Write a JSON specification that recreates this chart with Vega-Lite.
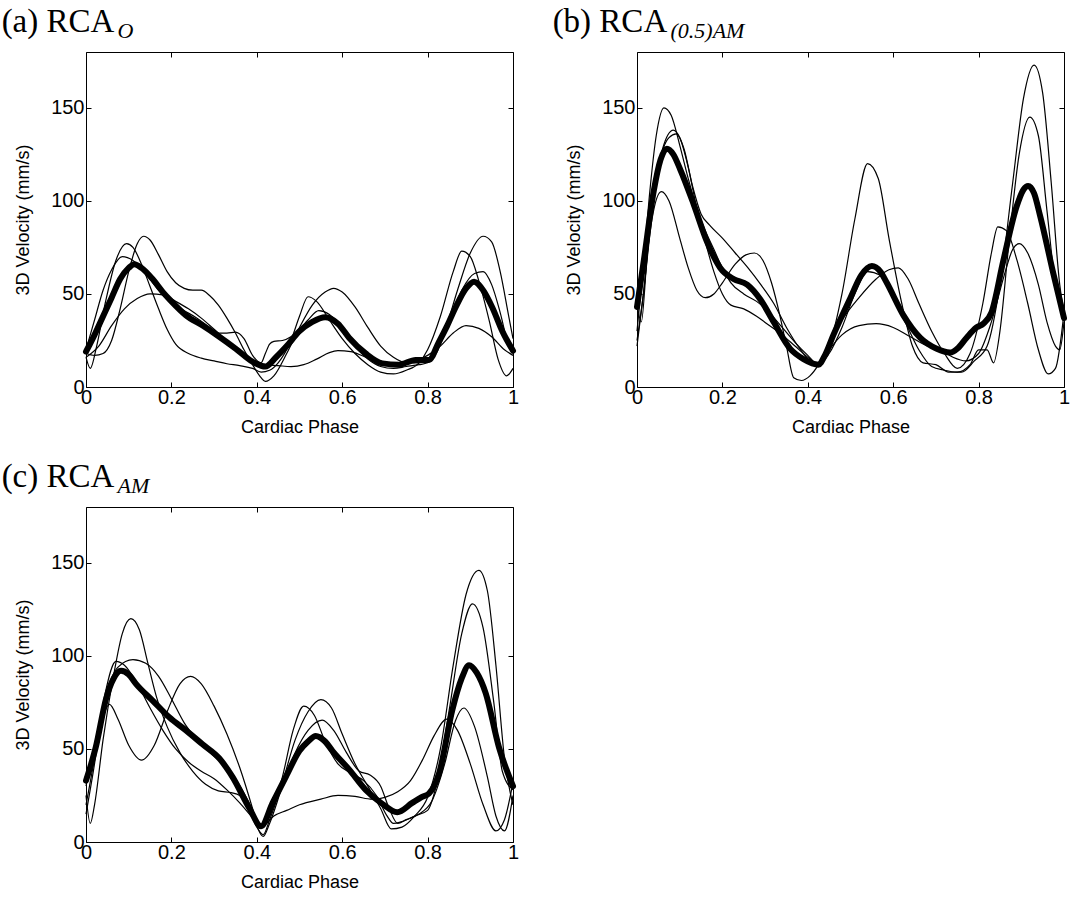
{
  "$schema": "https://vega.github.io/schema/vega-lite/v6.json",
  "background": "white",
  "padding": {"left": 1, "top": 5, "right": 5, "bottom": 5},
  "datasets": {
    "a": [
      {"s":"m","t":0,"v":19},{"s":"m","t":0.02,"v":28},{"s":"m","t":0.04,"v":38},{"s":"m","t":0.06,"v":48},{"s":"m","t":0.08,"v":58},{"s":"m","t":0.1,"v":64},{"s":"m","t":0.113,"v":66},{"s":"m","t":0.13,"v":64},{"s":"m","t":0.156,"v":58},{"s":"m","t":0.18,"v":51},{"s":"m","t":0.2,"v":46},{"s":"m","t":0.234,"v":38.5},{"s":"m","t":0.273,"v":33},{"s":"m","t":0.312,"v":27},{"s":"m","t":0.351,"v":20.5},{"s":"m","t":0.39,"v":13.6},{"s":"m","t":0.42,"v":11},{"s":"m","t":0.445,"v":16},{"s":"m","t":0.47,"v":22},{"s":"m","t":0.5,"v":30},{"s":"m","t":0.53,"v":35},{"s":"m","t":0.56,"v":37.5},{"s":"m","t":0.59,"v":34},{"s":"m","t":0.616,"v":26.5},{"s":"m","t":0.655,"v":18},{"s":"m","t":0.694,"v":12.7},{"s":"m","t":0.733,"v":12},{"s":"m","t":0.772,"v":14.5},{"s":"m","t":0.803,"v":14.5},{"s":"m","t":0.826,"v":24},{"s":"m","t":0.846,"v":33},{"s":"m","t":0.866,"v":43},{"s":"m","t":0.89,"v":53},{"s":"m","t":0.909,"v":56.6},{"s":"m","t":0.93,"v":52},{"s":"m","t":0.951,"v":43},{"s":"m","t":0.975,"v":30},{"s":"m","t":1,"v":19.5},
      {"s":"1","t":0,"v":18},{"s":"1","t":0.02,"v":17},{"s":"1","t":0.04,"v":18},{"s":"1","t":0.06,"v":25},{"s":"1","t":0.08,"v":42},{"s":"1","t":0.1,"v":62},{"s":"1","t":0.12,"v":77},{"s":"1","t":0.135,"v":81},{"s":"1","t":0.15,"v":79},{"s":"1","t":0.17,"v":71},{"s":"1","t":0.19,"v":62},{"s":"1","t":0.21,"v":56},{"s":"1","t":0.23,"v":53},{"s":"1","t":0.25,"v":52},{"s":"1","t":0.27,"v":52},{"s":"1","t":0.29,"v":49},{"s":"1","t":0.31,"v":44},{"s":"1","t":0.33,"v":37},{"s":"1","t":0.35,"v":29},{"s":"1","t":0.37,"v":20},{"s":"1","t":0.39,"v":12},{"s":"1","t":0.41,"v":5},{"s":"1","t":0.42,"v":3},{"s":"1","t":0.44,"v":6},{"s":"1","t":0.47,"v":18},{"s":"1","t":0.5,"v":32},{"s":"1","t":0.53,"v":44},{"s":"1","t":0.56,"v":51},{"s":"1","t":0.58,"v":53},{"s":"1","t":0.6,"v":51},{"s":"1","t":0.63,"v":43},{"s":"1","t":0.66,"v":32},{"s":"1","t":0.69,"v":22},{"s":"1","t":0.72,"v":16},{"s":"1","t":0.75,"v":13},{"s":"1","t":0.78,"v":13},{"s":"1","t":0.81,"v":17},{"s":"1","t":0.84,"v":30},{"s":"1","t":0.87,"v":52},{"s":"1","t":0.9,"v":72},{"s":"1","t":0.93,"v":81},{"s":"1","t":0.95,"v":78},{"s":"1","t":0.97,"v":62},{"s":"1","t":0.99,"v":38},{"s":"1","t":1,"v":26},
      {"s":"2","t":0,"v":16},{"s":"2","t":0.01,"v":10},{"s":"2","t":0.025,"v":22},{"s":"2","t":0.045,"v":45},{"s":"2","t":0.07,"v":68},{"s":"2","t":0.095,"v":77},{"s":"2","t":0.11,"v":75},{"s":"2","t":0.13,"v":66},{"s":"2","t":0.15,"v":54},{"s":"2","t":0.17,"v":42},{"s":"2","t":0.19,"v":31},{"s":"2","t":0.21,"v":23},{"s":"2","t":0.24,"v":18},{"s":"2","t":0.27,"v":15.5},{"s":"2","t":0.3,"v":14},{"s":"2","t":0.33,"v":12.5},{"s":"2","t":0.36,"v":11.5},{"s":"2","t":0.39,"v":10},{"s":"2","t":0.41,"v":8},{"s":"2","t":0.43,"v":9},{"s":"2","t":0.45,"v":13},{"s":"2","t":0.48,"v":25},{"s":"2","t":0.5,"v":38},{"s":"2","t":0.52,"v":48.5},{"s":"2","t":0.54,"v":46},{"s":"2","t":0.57,"v":36},{"s":"2","t":0.6,"v":26},{"s":"2","t":0.63,"v":18},{"s":"2","t":0.66,"v":12},{"s":"2","t":0.69,"v":8},{"s":"2","t":0.72,"v":7},{"s":"2","t":0.75,"v":9},{"s":"2","t":0.78,"v":13},{"s":"2","t":0.8,"v":20},{"s":"2","t":0.83,"v":38},{"s":"2","t":0.86,"v":62},{"s":"2","t":0.88,"v":73},{"s":"2","t":0.9,"v":70},{"s":"2","t":0.92,"v":57},{"s":"2","t":0.945,"v":35},{"s":"2","t":0.965,"v":15},{"s":"2","t":0.985,"v":6},{"s":"2","t":1,"v":10},
      {"s":"3","t":0,"v":20},{"s":"3","t":0.02,"v":36},{"s":"3","t":0.04,"v":52},{"s":"3","t":0.06,"v":63},{"s":"3","t":0.085,"v":70},{"s":"3","t":0.11,"v":68},{"s":"3","t":0.14,"v":61},{"s":"3","t":0.17,"v":52},{"s":"3","t":0.2,"v":45},{"s":"3","t":0.23,"v":41},{"s":"3","t":0.26,"v":37},{"s":"3","t":0.29,"v":32},{"s":"3","t":0.31,"v":29},{"s":"3","t":0.33,"v":29},{"s":"3","t":0.35,"v":29.5},{"s":"3","t":0.37,"v":26},{"s":"3","t":0.39,"v":17},{"s":"3","t":0.41,"v":13},{"s":"3","t":0.42,"v":18},{"s":"3","t":0.43,"v":23},{"s":"3","t":0.44,"v":24.5},{"s":"3","t":0.46,"v":25},{"s":"3","t":0.48,"v":27},{"s":"3","t":0.5,"v":31},{"s":"3","t":0.52,"v":36},{"s":"3","t":0.545,"v":41},{"s":"3","t":0.57,"v":39},{"s":"3","t":0.6,"v":31},{"s":"3","t":0.63,"v":22},{"s":"3","t":0.66,"v":15},{"s":"3","t":0.69,"v":11},{"s":"3","t":0.72,"v":10},{"s":"3","t":0.75,"v":11},{"s":"3","t":0.78,"v":12},{"s":"3","t":0.8,"v":13},{"s":"3","t":0.82,"v":18},{"s":"3","t":0.85,"v":35},{"s":"3","t":0.88,"v":52},{"s":"3","t":0.91,"v":61},{"s":"3","t":0.93,"v":62},{"s":"3","t":0.95,"v":55},{"s":"3","t":0.97,"v":40},{"s":"3","t":0.99,"v":22},{"s":"3","t":1,"v":18},
      {"s":"4","t":0,"v":16},{"s":"4","t":0.03,"v":22},{"s":"4","t":0.06,"v":33},{"s":"4","t":0.09,"v":42},{"s":"4","t":0.12,"v":47.5},{"s":"4","t":0.15,"v":50},{"s":"4","t":0.18,"v":49.5},{"s":"4","t":0.21,"v":46},{"s":"4","t":0.24,"v":42},{"s":"4","t":0.27,"v":37},{"s":"4","t":0.3,"v":31},{"s":"4","t":0.33,"v":25},{"s":"4","t":0.36,"v":19},{"s":"4","t":0.39,"v":14},{"s":"4","t":0.42,"v":12},{"s":"4","t":0.45,"v":11.5},{"s":"4","t":0.48,"v":11},{"s":"4","t":0.51,"v":12},{"s":"4","t":0.54,"v":15},{"s":"4","t":0.57,"v":18.5},{"s":"4","t":0.59,"v":19.5},{"s":"4","t":0.62,"v":19},{"s":"4","t":0.65,"v":16.5},{"s":"4","t":0.68,"v":14},{"s":"4","t":0.71,"v":12.5},{"s":"4","t":0.74,"v":12.5},{"s":"4","t":0.77,"v":14},{"s":"4","t":0.8,"v":17},{"s":"4","t":0.83,"v":22},{"s":"4","t":0.86,"v":29},{"s":"4","t":0.89,"v":33},{"s":"4","t":0.92,"v":31.5},{"s":"4","t":0.95,"v":27},{"s":"4","t":0.98,"v":20},{"s":"4","t":1,"v":17}
    ],
    "b": [
      {"s":"m","t":0,"v":43},{"s":"m","t":0.016,"v":68},{"s":"m","t":0.039,"v":105},{"s":"m","t":0.055,"v":122},{"s":"m","t":0.07,"v":128},{"s":"m","t":0.085,"v":125},{"s":"m","t":0.101,"v":117},{"s":"m","t":0.133,"v":98},{"s":"m","t":0.164,"v":78},{"s":"m","t":0.195,"v":64},{"s":"m","t":0.226,"v":58},{"s":"m","t":0.258,"v":55},{"s":"m","t":0.289,"v":47},{"s":"m","t":0.32,"v":35},{"s":"m","t":0.359,"v":20.5},{"s":"m","t":0.39,"v":15},{"s":"m","t":0.425,"v":12},{"s":"m","t":0.44,"v":17},{"s":"m","t":0.46,"v":28},{"s":"m","t":0.5,"v":48},{"s":"m","t":0.525,"v":60},{"s":"m","t":0.55,"v":65},{"s":"m","t":0.57,"v":62},{"s":"m","t":0.585,"v":56},{"s":"m","t":0.624,"v":38.5},{"s":"m","t":0.663,"v":26.5},{"s":"m","t":0.702,"v":20.5},{"s":"m","t":0.733,"v":18.5},{"s":"m","t":0.752,"v":21},{"s":"m","t":0.772,"v":26.5},{"s":"m","t":0.795,"v":32},{"s":"m","t":0.811,"v":34},{"s":"m","t":0.83,"v":40},{"s":"m","t":0.858,"v":68},{"s":"m","t":0.889,"v":97},{"s":"m","t":0.905,"v":106},{"s":"m","t":0.916,"v":108},{"s":"m","t":0.93,"v":104},{"s":"m","t":0.944,"v":92},{"s":"m","t":0.975,"v":61},{"s":"m","t":1,"v":37},
      {"s":"1","t":0,"v":30},{"s":"1","t":0.015,"v":65},{"s":"1","t":0.03,"v":105},{"s":"1","t":0.045,"v":135},{"s":"1","t":0.063,"v":150},{"s":"1","t":0.08,"v":146},{"s":"1","t":0.1,"v":130},{"s":"1","t":0.12,"v":112},{"s":"1","t":0.14,"v":96},{"s":"1","t":0.16,"v":84},{"s":"1","t":0.18,"v":74},{"s":"1","t":0.2,"v":64},{"s":"1","t":0.22,"v":56},{"s":"1","t":0.25,"v":50},{"s":"1","t":0.28,"v":46},{"s":"1","t":0.31,"v":40},{"s":"1","t":0.34,"v":32},{"s":"1","t":0.37,"v":24},{"s":"1","t":0.4,"v":17},{"s":"1","t":0.425,"v":12},{"s":"1","t":0.45,"v":22},{"s":"1","t":0.48,"v":50},{"s":"1","t":0.51,"v":90},{"s":"1","t":0.54,"v":120},{"s":"1","t":0.565,"v":112},{"s":"1","t":0.59,"v":80},{"s":"1","t":0.62,"v":45},{"s":"1","t":0.645,"v":22},{"s":"1","t":0.67,"v":13},{"s":"1","t":0.7,"v":12},{"s":"1","t":0.73,"v":8},{"s":"1","t":0.76,"v":8},{"s":"1","t":0.79,"v":14},{"s":"1","t":0.82,"v":22},{"s":"1","t":0.85,"v":55},{"s":"1","t":0.88,"v":110},{"s":"1","t":0.905,"v":155},{"s":"1","t":0.93,"v":173},{"s":"1","t":0.95,"v":158},{"s":"1","t":0.97,"v":110},{"s":"1","t":0.99,"v":55},{"s":"1","t":1,"v":40},
      {"s":"2","t":0,"v":25},{"s":"2","t":0.015,"v":50},{"s":"2","t":0.035,"v":95},{"s":"2","t":0.06,"v":128},{"s":"2","t":0.085,"v":138},{"s":"2","t":0.1,"v":134},{"s":"2","t":0.12,"v":118},{"s":"2","t":0.14,"v":96},{"s":"2","t":0.16,"v":78},{"s":"2","t":0.18,"v":62},{"s":"2","t":0.2,"v":50},{"s":"2","t":0.22,"v":44},{"s":"2","t":0.25,"v":42},{"s":"2","t":0.28,"v":38},{"s":"2","t":0.31,"v":33},{"s":"2","t":0.34,"v":28},{"s":"2","t":0.37,"v":22},{"s":"2","t":0.4,"v":16},{"s":"2","t":0.425,"v":12},{"s":"2","t":0.45,"v":18},{"s":"2","t":0.48,"v":32},{"s":"2","t":0.51,"v":50},{"s":"2","t":0.54,"v":62},{"s":"2","t":0.57,"v":60},{"s":"2","t":0.6,"v":48},{"s":"2","t":0.63,"v":34},{"s":"2","t":0.66,"v":20},{"s":"2","t":0.69,"v":11},{"s":"2","t":0.72,"v":9},{"s":"2","t":0.75,"v":8},{"s":"2","t":0.78,"v":12},{"s":"2","t":0.8,"v":20},{"s":"2","t":0.82,"v":20},{"s":"2","t":0.835,"v":13},{"s":"2","t":0.85,"v":30},{"s":"2","t":0.87,"v":75},{"s":"2","t":0.895,"v":125},{"s":"2","t":0.92,"v":145},{"s":"2","t":0.94,"v":135},{"s":"2","t":0.96,"v":95},{"s":"2","t":0.98,"v":55},{"s":"2","t":1,"v":40},
      {"s":"3","t":0,"v":22},{"s":"3","t":0.015,"v":50},{"s":"3","t":0.035,"v":90},{"s":"3","t":0.057,"v":105},{"s":"3","t":0.075,"v":100},{"s":"3","t":0.1,"v":80},{"s":"3","t":0.12,"v":64},{"s":"3","t":0.14,"v":52},{"s":"3","t":0.16,"v":48},{"s":"3","t":0.18,"v":50},{"s":"3","t":0.2,"v":56},{"s":"3","t":0.23,"v":66},{"s":"3","t":0.255,"v":71},{"s":"3","t":0.275,"v":72},{"s":"3","t":0.295,"v":68},{"s":"3","t":0.315,"v":56},{"s":"3","t":0.335,"v":38},{"s":"3","t":0.35,"v":22},{"s":"3","t":0.367,"v":5},{"s":"3","t":0.385,"v":3.5},{"s":"3","t":0.405,"v":6},{"s":"3","t":0.425,"v":12},{"s":"3","t":0.45,"v":24},{"s":"3","t":0.48,"v":36},{"s":"3","t":0.52,"v":48},{"s":"3","t":0.56,"v":58},{"s":"3","t":0.59,"v":63},{"s":"3","t":0.612,"v":64},{"s":"3","t":0.635,"v":58},{"s":"3","t":0.66,"v":45},{"s":"3","t":0.69,"v":30},{"s":"3","t":0.72,"v":18},{"s":"3","t":0.75,"v":10},{"s":"3","t":0.78,"v":18},{"s":"3","t":0.81,"v":45},{"s":"3","t":0.83,"v":72},{"s":"3","t":0.845,"v":86},{"s":"3","t":0.865,"v":84},{"s":"3","t":0.89,"v":68},{"s":"3","t":0.915,"v":45},{"s":"3","t":0.94,"v":20},{"s":"3","t":0.963,"v":7},{"s":"3","t":0.98,"v":10},{"s":"3","t":1,"v":40},
      {"s":"4","t":0,"v":45},{"s":"4","t":0.01,"v":35},{"s":"4","t":0.025,"v":75},{"s":"4","t":0.05,"v":118},{"s":"4","t":0.075,"v":134},{"s":"4","t":0.092,"v":136},{"s":"4","t":0.11,"v":128},{"s":"4","t":0.13,"v":108},{"s":"4","t":0.15,"v":93},{"s":"4","t":0.17,"v":87},{"s":"4","t":0.2,"v":80},{"s":"4","t":0.23,"v":72},{"s":"4","t":0.26,"v":64},{"s":"4","t":0.29,"v":55},{"s":"4","t":0.32,"v":45},{"s":"4","t":0.35,"v":32},{"s":"4","t":0.38,"v":21},{"s":"4","t":0.405,"v":14},{"s":"4","t":0.425,"v":12},{"s":"4","t":0.45,"v":20},{"s":"4","t":0.48,"v":28},{"s":"4","t":0.52,"v":33},{"s":"4","t":0.56,"v":34},{"s":"4","t":0.6,"v":32},{"s":"4","t":0.64,"v":27},{"s":"4","t":0.68,"v":22},{"s":"4","t":0.71,"v":20},{"s":"4","t":0.74,"v":16},{"s":"4","t":0.77,"v":14},{"s":"4","t":0.8,"v":18},{"s":"4","t":0.83,"v":35},{"s":"4","t":0.86,"v":60},{"s":"4","t":0.88,"v":74},{"s":"4","t":0.895,"v":77},{"s":"4","t":0.915,"v":72},{"s":"4","t":0.94,"v":55},{"s":"4","t":0.96,"v":35},{"s":"4","t":0.98,"v":22},{"s":"4","t":0.99,"v":20},{"s":"4","t":1,"v":35}
    ],
    "c": [
      {"s":"m","t":0,"v":33},{"s":"m","t":0.023,"v":51},{"s":"m","t":0.047,"v":77},{"s":"m","t":0.065,"v":88},{"s":"m","t":0.082,"v":92},{"s":"m","t":0.1,"v":90},{"s":"m","t":0.117,"v":85},{"s":"m","t":0.156,"v":76},{"s":"m","t":0.195,"v":67},{"s":"m","t":0.234,"v":60},{"s":"m","t":0.273,"v":52.5},{"s":"m","t":0.312,"v":45},{"s":"m","t":0.343,"v":35},{"s":"m","t":0.383,"v":18},{"s":"m","t":0.41,"v":8.5},{"s":"m","t":0.437,"v":21},{"s":"m","t":0.468,"v":35},{"s":"m","t":0.5,"v":49},{"s":"m","t":0.52,"v":54},{"s":"m","t":0.538,"v":57},{"s":"m","t":0.56,"v":54},{"s":"m","t":0.577,"v":49},{"s":"m","t":0.616,"v":39},{"s":"m","t":0.655,"v":28},{"s":"m","t":0.694,"v":20.5},{"s":"m","t":0.729,"v":16},{"s":"m","t":0.764,"v":21},{"s":"m","t":0.785,"v":24},{"s":"m","t":0.803,"v":26},{"s":"m","t":0.827,"v":37},{"s":"m","t":0.858,"v":71},{"s":"m","t":0.88,"v":88},{"s":"m","t":0.897,"v":95},{"s":"m","t":0.915,"v":91},{"s":"m","t":0.936,"v":80},{"s":"m","t":0.967,"v":51},{"s":"m","t":1,"v":30},
      {"s":"1","t":0,"v":25},{"s":"1","t":0.01,"v":10},{"s":"1","t":0.02,"v":20},{"s":"1","t":0.04,"v":55},{"s":"1","t":0.065,"v":90},{"s":"1","t":0.085,"v":112},{"s":"1","t":0.105,"v":120},{"s":"1","t":0.125,"v":114},{"s":"1","t":0.145,"v":96},{"s":"1","t":0.165,"v":78},{"s":"1","t":0.19,"v":62},{"s":"1","t":0.22,"v":48},{"s":"1","t":0.25,"v":38},{"s":"1","t":0.28,"v":31},{"s":"1","t":0.31,"v":27.5},{"s":"1","t":0.34,"v":26.5},{"s":"1","t":0.36,"v":25},{"s":"1","t":0.38,"v":18},{"s":"1","t":0.4,"v":8},{"s":"1","t":0.415,"v":4},{"s":"1","t":0.43,"v":12},{"s":"1","t":0.46,"v":32},{"s":"1","t":0.49,"v":55},{"s":"1","t":0.52,"v":70},{"s":"1","t":0.55,"v":76.5},{"s":"1","t":0.575,"v":72},{"s":"1","t":0.6,"v":58},{"s":"1","t":0.63,"v":42},{"s":"1","t":0.66,"v":30},{"s":"1","t":0.69,"v":18},{"s":"1","t":0.715,"v":7},{"s":"1","t":0.74,"v":8},{"s":"1","t":0.77,"v":14},{"s":"1","t":0.8,"v":24},{"s":"1","t":0.83,"v":50},{"s":"1","t":0.86,"v":95},{"s":"1","t":0.89,"v":133},{"s":"1","t":0.92,"v":146},{"s":"1","t":0.94,"v":135},{"s":"1","t":0.96,"v":95},{"s":"1","t":0.98,"v":45},{"s":"1","t":1,"v":20},
      {"s":"2","t":0,"v":20},{"s":"2","t":0.02,"v":45},{"s":"2","t":0.045,"v":80},{"s":"2","t":0.07,"v":97},{"s":"2","t":0.09,"v":95},{"s":"2","t":0.12,"v":85},{"s":"2","t":0.15,"v":72},{"s":"2","t":0.18,"v":60},{"s":"2","t":0.21,"v":50},{"s":"2","t":0.24,"v":43},{"s":"2","t":0.27,"v":38},{"s":"2","t":0.3,"v":34},{"s":"2","t":0.33,"v":28},{"s":"2","t":0.36,"v":21},{"s":"2","t":0.39,"v":13},{"s":"2","t":0.41,"v":8},{"s":"2","t":0.43,"v":14},{"s":"2","t":0.46,"v":35},{"s":"2","t":0.485,"v":60},{"s":"2","t":0.51,"v":73},{"s":"2","t":0.535,"v":68},{"s":"2","t":0.56,"v":54},{"s":"2","t":0.59,"v":42},{"s":"2","t":0.62,"v":37},{"s":"2","t":0.65,"v":33},{"s":"2","t":0.68,"v":25},{"s":"2","t":0.705,"v":14},{"s":"2","t":0.72,"v":10},{"s":"2","t":0.74,"v":11},{"s":"2","t":0.77,"v":14},{"s":"2","t":0.8,"v":17},{"s":"2","t":0.82,"v":30},{"s":"2","t":0.85,"v":70},{"s":"2","t":0.88,"v":112},{"s":"2","t":0.905,"v":128},{"s":"2","t":0.93,"v":115},{"s":"2","t":0.955,"v":75},{"s":"2","t":0.975,"v":38},{"s":"2","t":1,"v":28},
      {"s":"3","t":0,"v":30},{"s":"3","t":0.02,"v":52},{"s":"3","t":0.045,"v":78},{"s":"3","t":0.075,"v":94},{"s":"3","t":0.11,"v":98},{"s":"3","t":0.14,"v":96},{"s":"3","t":0.17,"v":89},{"s":"3","t":0.2,"v":77},{"s":"3","t":0.23,"v":64},{"s":"3","t":0.26,"v":55},{"s":"3","t":0.29,"v":48},{"s":"3","t":0.32,"v":42},{"s":"3","t":0.35,"v":34},{"s":"3","t":0.38,"v":22},{"s":"3","t":0.4,"v":12},{"s":"3","t":0.415,"v":9},{"s":"3","t":0.44,"v":14},{"s":"3","t":0.47,"v":17},{"s":"3","t":0.5,"v":20},{"s":"3","t":0.55,"v":23},{"s":"3","t":0.59,"v":25},{"s":"3","t":0.63,"v":24.5},{"s":"3","t":0.67,"v":23},{"s":"3","t":0.7,"v":24},{"s":"3","t":0.73,"v":27},{"s":"3","t":0.76,"v":33},{"s":"3","t":0.79,"v":45},{"s":"3","t":0.815,"v":57},{"s":"3","t":0.845,"v":66},{"s":"3","t":0.87,"v":60},{"s":"3","t":0.9,"v":42},{"s":"3","t":0.93,"v":20},{"s":"3","t":0.96,"v":6},{"s":"3","t":0.98,"v":12},{"s":"3","t":1,"v":32},
      {"s":"4","t":0,"v":15},{"s":"4","t":0.015,"v":35},{"s":"4","t":0.035,"v":62},{"s":"4","t":0.055,"v":74},{"s":"4","t":0.075,"v":66},{"s":"4","t":0.1,"v":52},{"s":"4","t":0.13,"v":44},{"s":"4","t":0.16,"v":52},{"s":"4","t":0.19,"v":70},{"s":"4","t":0.22,"v":85},{"s":"4","t":0.245,"v":89},{"s":"4","t":0.27,"v":85},{"s":"4","t":0.3,"v":73},{"s":"4","t":0.33,"v":58},{"s":"4","t":0.36,"v":40},{"s":"4","t":0.39,"v":18},{"s":"4","t":0.405,"v":6},{"s":"4","t":0.415,"v":3},{"s":"4","t":0.43,"v":10},{"s":"4","t":0.46,"v":30},{"s":"4","t":0.49,"v":48},{"s":"4","t":0.52,"v":60},{"s":"4","t":0.553,"v":65.5},{"s":"4","t":0.58,"v":60},{"s":"4","t":0.61,"v":48},{"s":"4","t":0.64,"v":38},{"s":"4","t":0.665,"v":36},{"s":"4","t":0.69,"v":30},{"s":"4","t":0.71,"v":18},{"s":"4","t":0.73,"v":10},{"s":"4","t":0.75,"v":12},{"s":"4","t":0.78,"v":15},{"s":"4","t":0.81,"v":22},{"s":"4","t":0.84,"v":42},{"s":"4","t":0.865,"v":65},{"s":"4","t":0.885,"v":72},{"s":"4","t":0.91,"v":62},{"s":"4","t":0.94,"v":35},{"s":"4","t":0.96,"v":14},{"s":"4","t":0.98,"v":6},{"s":"4","t":1,"v":25}
    ]
  },
  "columns": 2,
  "spacing": {"row": 23, "column": 32},
  "concat": [
    {
      "width": 427, "height": 335,
      "title": {"text": "(a) RCA"},
      "data": {"name": "a"},
      "layer": [
        {"transform": [{"filter": "datum.s != 'm'"}],
         "mark": {"type": "line", "color": "black", "strokeWidth": 1.2, "interpolate": "monotone"},
         "encoding": {
           "x": {"field": "t", "type": "quantitative", "scale": {"domain": [0, 1]}, "axis": {"values": [0, 0.2, 0.4, 0.6, 0.8, 1], "format": "~g", "title": "Cardiac Phase"}},
           "y": {"field": "v", "type": "quantitative", "scale": {"domain": [0, 173]}, "axis": {"values": [0, 50, 100, 150], "title": "3D Velocity (mm/s)"}},
           "detail": {"field": "s"}}},
        {"transform": [{"filter": "datum.s == 'm'"}],
         "mark": {"type": "line", "color": "black", "strokeWidth": 6, "interpolate": "monotone", "strokeJoin": "round", "strokeCap": "round"},
         "encoding": {
           "x": {"field": "t", "type": "quantitative", "axis": {"orient": "top", "values": [0, 0.2, 0.4, 0.6, 0.8, 1], "labels": false, "title": "O", "titleX": 31}},
           "y": {"field": "v", "type": "quantitative", "axis": {"orient": "right", "values": [0, 50, 100, 150], "labels": false, "title": null}}}}
      ],
      "resolve": {"axis": {"x": "independent", "y": "independent"}}
    },
    {
      "width": 427, "height": 335,
      "title": {"text": "(b) RCA"},
      "data": {"name": "b"},
      "layer": [
        {"transform": [{"filter": "datum.s != 'm'"}],
         "mark": {"type": "line", "color": "black", "strokeWidth": 1.2, "interpolate": "monotone"},
         "encoding": {
           "x": {"field": "t", "type": "quantitative", "scale": {"domain": [0, 1]}, "axis": {"values": [0, 0.2, 0.4, 0.6, 0.8, 1], "format": "~g", "title": "Cardiac Phase"}},
           "y": {"field": "v", "type": "quantitative", "scale": {"domain": [0, 173]}, "axis": {"values": [0, 50, 100, 150], "title": "3D Velocity (mm/s)"}},
           "detail": {"field": "s"}}},
        {"transform": [{"filter": "datum.s == 'm'"}],
         "mark": {"type": "line", "color": "black", "strokeWidth": 6, "interpolate": "monotone", "strokeJoin": "round", "strokeCap": "round"},
         "encoding": {
           "x": {"field": "t", "type": "quantitative", "axis": {"orient": "top", "values": [0, 0.2, 0.4, 0.6, 0.8, 1], "labels": false, "title": "(0.5)AM", "titleX": 33}},
           "y": {"field": "v", "type": "quantitative", "axis": {"orient": "right", "values": [0, 50, 100, 150], "labels": false, "title": null}}}}
      ],
      "resolve": {"axis": {"x": "independent", "y": "independent"}}
    },
    {
      "width": 427, "height": 335,
      "title": {"text": "(c) RCA"},
      "data": {"name": "c"},
      "layer": [
        {"transform": [{"filter": "datum.s != 'm'"}],
         "mark": {"type": "line", "color": "black", "strokeWidth": 1.2, "interpolate": "monotone"},
         "encoding": {
           "x": {"field": "t", "type": "quantitative", "scale": {"domain": [0, 1]}, "axis": {"values": [0, 0.2, 0.4, 0.6, 0.8, 1], "format": "~g", "title": "Cardiac Phase"}},
           "y": {"field": "v", "type": "quantitative", "scale": {"domain": [0, 173]}, "axis": {"values": [0, 50, 100, 150], "title": "3D Velocity (mm/s)"}},
           "detail": {"field": "s"}}},
        {"transform": [{"filter": "datum.s == 'm'"}],
         "mark": {"type": "line", "color": "black", "strokeWidth": 6, "interpolate": "monotone", "strokeJoin": "round", "strokeCap": "round"},
         "encoding": {
           "x": {"field": "t", "type": "quantitative", "axis": {"orient": "top", "values": [0, 0.2, 0.4, 0.6, 0.8, 1], "labels": false, "title": "AM", "titleX": 31}},
           "y": {"field": "v", "type": "quantitative", "axis": {"orient": "right", "values": [0, 50, 100, 150], "labels": false, "title": null}}}}
      ],
      "resolve": {"axis": {"x": "independent", "y": "independent"}}
    }
  ],
  "config": {
    "view": {"stroke": "black", "strokeWidth": 1},
    "axis": {"domain": false, "grid": false, "tickColor": "black", "tickSize": -5, "tickWidth": 1, "labelFont": "Liberation Sans", "labelFontSize": 20, "labelColor": "black", "labelOverlap": false, "labelFlush": false, "labelBound": false, "titleFont": "Liberation Sans", "titleFontSize": 18, "titleFontWeight": "normal", "titleColor": "black"},
    "axisLeft": {"labelPadding": 7, "titlePadding": 18},
    "axisBottom": {"labelPadding": 5, "titlePadding": 11},
    "axisTop": {"titleFont": "Liberation Serif", "titleFontStyle": "italic", "titleFontSize": 22, "titleAlign": "left", "titleAnchor": null, "titleY": -15, "titleBaseline": "alphabetic", "titleAngle": 0},
    "title": {"anchor": "start", "font": "Liberation Serif", "fontSize": 33, "fontWeight": "normal", "color": "black", "offset": -20, "dx": -13}
  }
}
